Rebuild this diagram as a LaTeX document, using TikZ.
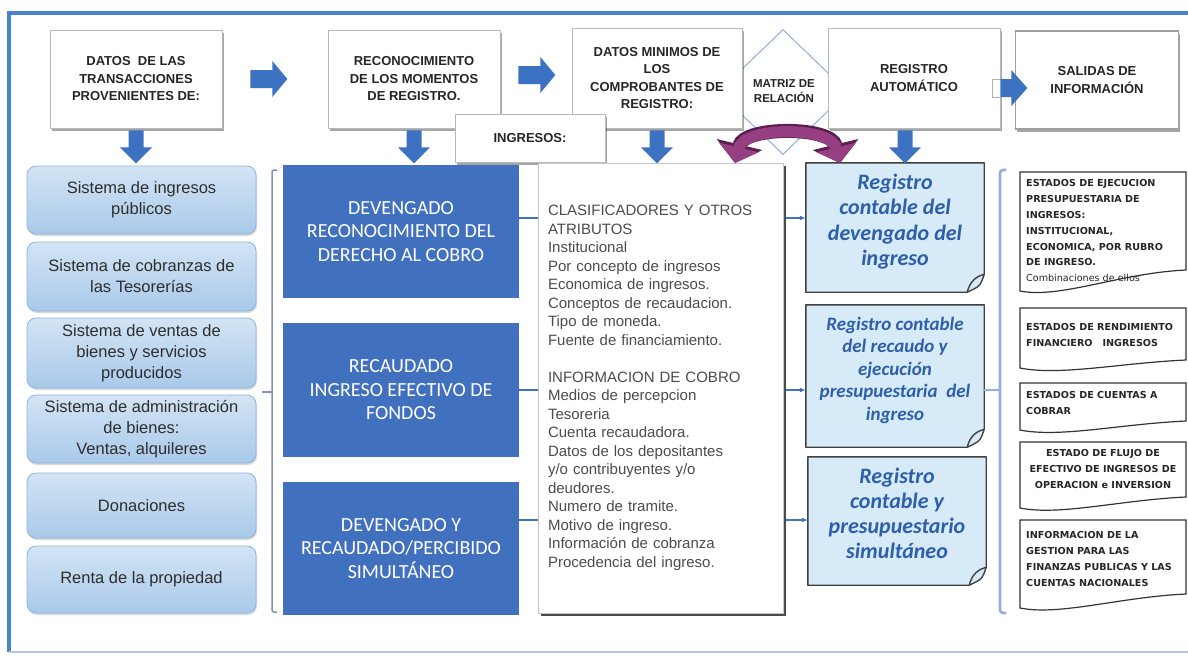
\documentclass[tikz,border=0pt]{standalone}
\usepackage{fontspec}
\setmainfont{Liberation Sans}
\newfontfamily\calibri{Carlito}
\newfontfamily\dejavu{DejaVu Sans}
\usetikzlibrary{shapes.geometric,shadows,calc,arrows.meta}

\definecolor{frameblue}{HTML}{4A84C8}
\definecolor{blockblue}{HTML}{3D72C2}
\definecolor{darkbox}{HTML}{4170BF}
\definecolor{srctop}{HTML}{D3E4F4}
\definecolor{srcbot}{HTML}{A9C9EA}
\definecolor{srcedge}{HTML}{8DB4DD}
\definecolor{notefill}{HTML}{D6EAF8}
\definecolor{notetext}{HTML}{2D5FAA}
\definecolor{bracketgray}{HTML}{7E93B8}
\definecolor{bracketblue}{HTML}{93ADD8}
\definecolor{matrixblue}{HTML}{8EB1DA}
\definecolor{plum}{HTML}{963F82}
\definecolor{plumedge}{HTML}{5A2150}
\definecolor{bodygray}{HTML}{4C4C4C}
\definecolor{connblue}{HTML}{3F72C0}

\pgfdeclarelayer{bg}
\pgfsetlayers{bg,main}

% block arrow pointing down, hanging from a point
\newcommand\dnarrow[1]{\fill[blockblue] ($(#1)+(-7.5,2)$) -- ++(15,0) -- ++(0,17) -- ++(8.5,0)
  -- ++(-16,16) -- ++(-16,-16) -- ++(8.5,0) -- cycle;}
% block arrow pointing right: tail point, shaft length, head length
\newcommand\rtarrow[3]{\fill[blockblue] ($(#1)+(0,-9)$) -- ++(#2,0) -- ++(0,-9) -- ++(#3,18)
  -- ++(-#3,18) -- ++(0,-9) -- ++(-#2,0) -- cycle;}
% sheet with a curled lower right corner around a node
\newcommand\notefold[1]{%
  \begin{pgfonlayer}{bg}
  \filldraw[notesheet] (#1.north west) -- (#1.north east) -- ([yshift=18pt]#1.south east)
    .. controls ([xshift=-4pt,yshift=6pt]#1.south east) .. ([xshift=-17pt]#1.south east)
    -- (#1.south west) -- cycle;
  \draw[notesheet, fill=none] ([xshift=-17pt]#1.south east)
    .. controls ([xshift=-14pt,yshift=12pt]#1.south east) and ([xshift=-7pt,yshift=16pt]#1.south east)
    .. ([yshift=18pt]#1.south east);
  \end{pgfonlayer}}
% report sheet with a wavy lower edge: top, left end, right end of the wave
\newcommand\wavepath[3]{(1020,#1) -- (1186,#1) -- (1186,#3)
  .. controls (1120,#3+3) and (1060,#2+8) .. (1020,#2) -- cycle}

\begin{document}
\begin{tikzpicture}[x=1pt,y=-1pt,
  topbox/.style={draw=gray!55, fill=white, line width=0.7pt, align=center, inner sep=2pt,
    font=\bfseries\fontsize{13}{17.5}\selectfont, text=black!85,
    drop shadow={shadow xshift=1.5pt, shadow yshift=-2.5pt, fill=black, opacity=0.35}},
  matrixdiamond/.style={diamond, draw=matrixblue, line width=1pt, fill=white,
    minimum width=130pt, minimum height=125pt, inner sep=0pt},
  matrixlabel/.style={font=\bfseries\fontsize{11.5}{15}\selectfont, align=center, text=black!85},
  srcbox/.style={rounded corners=9pt, draw=srcedge, line width=0.8pt, top color=srctop,
    bottom color=srcbot, minimum width=229pt, align=center, text=black!82,
    font=\fontsize{16.5}{21}\selectfont,
    drop shadow={shadow xshift=1pt, shadow yshift=-2pt, fill=black, opacity=0.15}},
  stagebox/.style={fill=darkbox, text=white, minimum width=236pt, minimum height=133pt,
    align=center, font=\calibri\fontsize{20}{23.5}\selectfont},
  attrbox/.style={draw=gray!45, fill=white, line width=0.8pt, text width=225pt,
    inner xsep=10pt, minimum height=450pt, align=left, text=bodygray,
    font=\fontsize{15}{18.5}\selectfont,
    drop shadow={shadow xshift=2.5pt, shadow yshift=-2.5pt, fill=black!70, opacity=1}},
  notebox/.style={minimum width=178pt, inner sep=0pt},
  notetitle/.style={align=center, text=notetext, inner sep=0pt},
  notesheet/.style={fill=notefill, draw=black!75, line width=1.4pt, line join=round},
  conn/.style={draw=connblue, line width=1.2pt},
  bracketA/.style={draw=bracketgray, line width=1.5pt, rounded corners=2pt},
  bracketB/.style={draw=bracketblue, line width=2.6pt, rounded corners=3pt},
  reportsheet/.style={draw=black!80, line width=1.2pt},
  reporttext/.style={inner sep=0pt, align=left, text=black!85,
    font=\dejavu\bfseries\fontsize{9.6}{15.8}\selectfont},
]
\useasboundingbox (0,0) rectangle (1188,657);

% outer frame
\draw[frameblue, line width=3.5pt] (1192,13) -- (9,13) -- (9,652);
\draw[frameblue!45, line width=1.5pt] (9,652) -- (1192,652);

% relation matrix behind the header row
\node[matrixdiamond] (mx) at (783,92) {};

% header row
\node[topbox, minimum width=172pt, minimum height=98pt] (t1) at (136,79)
  {DATOS~ DE LAS\\TRANSACCIONES\\PROVENIENTES DE:};
\node[topbox, minimum width=172pt, minimum height=98pt] (t2) at (414,79)
  {RECONOCIMIENTO\\DE LOS MOMENTOS\\DE REGISTRO.};
\node[topbox, minimum width=170pt, minimum height=100pt] (t3) at (657,78)
  {DATOS MINIMOS DE\\LOS\\COMPROBANTES DE\\REGISTRO:};
\node[topbox, minimum width=172pt, minimum height=100pt] (t5) at (914,78)
  {REGISTRO\\AUTOMÁTICO};
\node[topbox, draw=gray!75, line width=1.8pt, minimum width=163pt, minimum height=98pt] (t6)
  at (1097,80) {SALIDAS DE\\INFORMACIÓN};
\node[matrixlabel] (mxl) at (784,91) {MATRIZ DE\\RELACIÓN};
\node[topbox, minimum width=150pt, minimum height=48pt] (ing) at (530,138) {INGRESOS:};

% block arrows of the header row
\coordinate (a12) at ([xshift=28pt]t1.east);
\coordinate (a23) at ([xshift=18pt,yshift=4pt]t2.east);
\coordinate (a56) at ([yshift=-10pt]t5.east);
\coordinate (d5top) at ([xshift=-9pt]t5.south);
\rtarrow{a12}{22}{15}
\rtarrow{a23}{22}{15}
\draw[fill=white, draw=gray!60, line width=0.8pt] ([xshift=-8pt,yshift=-1pt]t5.east)
  rectangle ([xshift=1pt,yshift=-19pt]t5.east);
\rtarrow{a56}{11}{16}
\dnarrow{t1.south}
\dnarrow{t2.south}
\dnarrow{t3.south}
\dnarrow{d5top}

% two-way link through the relation matrix
\coordinate (pl) at (735,163);
\coordinate (pr) at (840,163);
\draw[plumedge, line width=14pt, {Triangle[width=46pt,length=19pt]}-{Triangle[width=46pt,length=19pt]}]
  (pl) .. controls (744,126) and (831,126) .. (pr);
\draw[plum, line width=11pt, {Triangle[width=40pt,length=16pt]}-{Triangle[width=40pt,length=16pt]}]
  (pl) .. controls (744,126) and (831,126) .. (pr);

% sources
\node[srcbox, minimum height=68pt] (b1) at (141.5,200) {Sistema de ingresos\\públicos};
\node[srcbox, minimum height=69pt] (b2) at (141.5,276.5) {Sistema de cobranzas de\\las Tesorerías};
\node[srcbox, minimum height=70pt] (b3) at (141.5,353) {Sistema de ventas de\\bienes y servicios\\producidos};
\node[srcbox, minimum height=68pt] (b4) at (141.5,429) {Sistema de administración\\de bienes:\\Ventas, alquileres};
\node[srcbox, minimum height=65pt] (b5) at (141.5,505.5) {Donaciones};
\node[srcbox, minimum height=67pt] (b6) at (141.5,579.5) {Renta de la propiedad};

% bracket gathering the sources
\coordinate (k1t) at (272,170);
\coordinate (k1b) at (272,612);
\coordinate (k1m) at (272,392);
\draw[bracketA] ([xshift=5pt]k1t) -- (k1t) -- (k1b) -- ([xshift=5pt]k1b);
\draw[bracketA] ([xshift=-10pt]k1m) -- (k1m);

% recognition moments
\node[stagebox] (d1) at (401,231.5) {DEVENGADO\\RECONOCIMIENTO DEL\\DERECHO AL COBRO};
\node[stagebox, minimum height=134pt] (d2) at (401,390) {RECAUDADO\\INGRESO EFECTIVO DE\\FONDOS};
\node[stagebox] (d3) at (401,548.5) {DEVENGADO Y\\RECAUDADO/PERCIBIDO\\SIMULTÁNEO};

% records produced by each moment
\node[notebox, minimum height=129pt] (r1) at (895,227.5) {};
\node[notebox, minimum height=142pt] (r2) at (895,376) {};
\node[notebox, minimum height=128pt] (r3) at (897,521) {};
\notefold{r1}
\notefold{r2}
\notefold{r3}
\node[notetitle, font=\calibri\bfseries\itshape\fontsize{22}{25.5}\selectfont]
  (r1t) at ([yshift=6pt]r1.center) {Registro\\contable del\\devengado del\\ingreso};
\node[notetitle, font=\calibri\bfseries\itshape\fontsize{19}{22.5}\selectfont]
  (r2t) at ([yshift=6pt]r2.center) {Registro contable\\del recaudo y\\ejecución\\presupuestaria~ del\\ingreso};
\node[notetitle, font=\calibri\bfseries\itshape\fontsize{22}{25}\selectfont]
  (r3t) at ([yshift=8pt]r3.center) {Registro\\contable y\\presupuestario\\simultáneo};

\draw[conn, -{Latex[length=6pt,width=5pt]}] (d1.east |- 0,218) -- (r1.west |- 0,218);
\draw[conn, -{Latex[length=6pt,width=5pt]}] (d2.east |- 0,390) -- (r2.west |- 0,390);
\draw[conn, -{Latex[length=6pt,width=5pt]}] (d3.east |- 0,520) -- (r3.west |- 0,520);

% minimum voucher data
\node[attrbox] (tb) at (660.5,388) {CLASIFICADORES Y OTROS\\ATRIBUTOS\\Institucional\\Por concepto de ingresos\\Economica de ingresos.\\Conceptos de recaudacion.\\Tipo de moneda.\\Fuente de financiamiento.\\[18.5pt]INFORMACION DE COBRO\\Medios de percepcion\\Tesoreria\\Cuenta recaudadora.\\Datos de los depositantes\\y/o contribuyentes y/o\\deudores.\\Numero de tramite.\\Motivo de ingreso.\\Información de cobranza\\Procedencia del ingreso.};

% bracket gathering the records
\coordinate (k2t) at (1000,170);
\coordinate (k2b) at (1000,613);
\coordinate (k2m) at (1000,390);
\draw[bracketB] ([xshift=6pt]k2t) -- (k2t) -- (k2b) -- ([xshift=6pt]k2b);
\draw[bracketB, line width=1.2pt] (r2.east |- k2m) -- (k2m);

% information outputs
\begin{pgfonlayer}{bg}
\fill[white] \wavepath{172}{291}{270};
\fill[white] \wavepath{308}{368}{360};
\fill[white] \wavepath{383}{430}{421};
\fill[white] \wavepath{442}{508}{497};
\fill[white] \wavepath{520}{608}{594};
\end{pgfonlayer}
\node[reporttext, anchor=north west] (o1) at (1026,179.5)
  {ESTADOS DE EJECUCION\\PRESUPUESTARIA DE\\INGRESOS:\\INSTITUCIONAL,\\ECONOMICA, POR RUBRO\\DE INGRESO.\\{\mdseries Combinaciones de ellos}};
\node[reporttext, anchor=north west] (o2) at (1026,323.5)
  {ESTADOS DE RENDIMIENTO\\FINANCIERO~~ INGRESOS};
\node[reporttext, anchor=north west] (o3) at (1026,391.5)
  {ESTADOS DE CUENTAS A\\COBRAR};
\node[reporttext, anchor=north, align=center] (o4) at (1103,449.5)
  {ESTADO DE FLUJO DE\\EFECTIVO DE INGRESOS DE\\OPERACION e INVERSION};
\node[reporttext, anchor=north west] (o5) at (1026,531.5)
  {INFORMACION DE LA\\GESTION PARA LAS\\FINANZAS PUBLICAS Y LAS\\CUENTAS NACIONALES};
\draw[reportsheet] \wavepath{172}{291}{270};
\draw[reportsheet] \wavepath{308}{368}{360};
\draw[reportsheet] \wavepath{383}{430}{421};
\draw[reportsheet] \wavepath{442}{508}{497};
\draw[reportsheet] \wavepath{520}{608}{594};
\end{tikzpicture}
\end{document}
